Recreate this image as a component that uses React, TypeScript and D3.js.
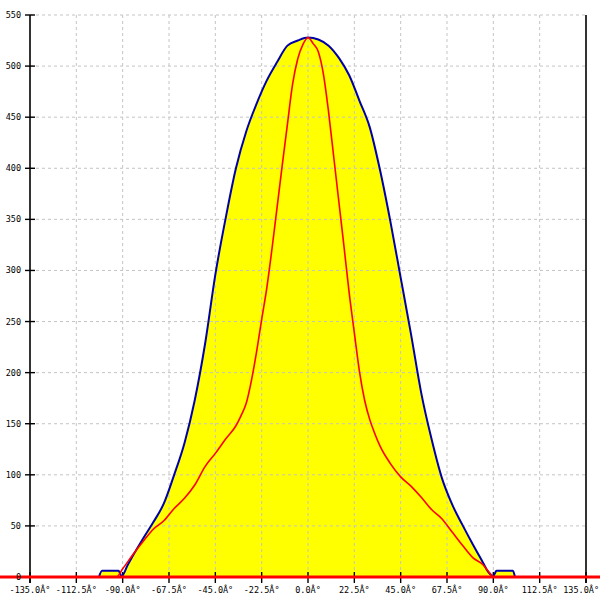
import React from 'react';
import * as d3 from 'd3';

// Blue curve (outer, filled yellow)
const blueAngles = [-101.5, -100, -92, -90.5, -87.5, -85, -80, -75, -70, -65, -60, -55, -50, -45, -40, -35, -30, -25, -20, -15, -10, -5, 0, 5, 10, 15, 20, 25, 30, 35, 40, 45, 50, 55, 60, 65, 70, 75, 80, 85, 87.5, 90, 91.5, 99.5, 100.5];
const blueValues = [0, 6, 6, 1, 12, 21, 38, 54, 72, 100, 131, 173, 228, 296, 351, 400, 436, 463, 486, 504, 520, 525, 528, 526, 520, 508, 491, 466, 440, 398, 348, 293, 238, 180, 135, 97, 71, 51, 32, 14, 5, 1, 6, 6, 0];

// Red curve (narrow)
const redAngles = [-180, -93, -90, -85, -80, -75, -70, -65, -60, -55, -50, -45, -40, -35, -32.5, -30, -27.5, -25, -22.5, -20, -17.5, -15, -12.5, -10, -7.5, -5, -2.5, 0, 2.5, 5, 7.5, 10, 12.5, 15, 17.5, 20, 22.5, 25, 27.5, 30, 32.5, 35, 40, 45, 50, 55, 60, 65, 70, 75, 80, 85, 89, 90, 180];
const redValues = [0, 0, 8, 22, 35, 47, 55, 67, 77, 90, 108, 121, 135, 148, 158, 170, 192, 220, 252, 283, 321, 362, 403, 443, 482, 507, 521, 528, 522, 514, 492, 455, 411, 367, 323, 278, 239, 201, 173, 154, 140, 128, 111, 98, 89, 78, 66, 57, 44, 31, 19, 12, 2, 0, 0];

const xTickValues = [-135, -112.5, -90, -67.5, -45, -22.5, 0, 22.5, 45, 67.5, 90, 112.5, 135];
const xTickLabels = ['-135.0Â°', '-112.5Â°', '-90.0Â°', '-67.5Â°', '-45.0Â°', '-22.5Â°', '0.0Â°', '22.5Â°', '45.0Â°', '67.5Â°', '90.0Â°', '112.5Â°', '135.0Â°'];
const yTickValues = [0, 50, 100, 150, 200, 250, 300, 350, 400, 450, 500, 550];

export default function App() {
  const x = d3.scaleLinear().domain([-135, 135]).range([30, 586]);
  const y = d3.scaleLinear().domain([0, 550]).range([577, 15]);

  const blue: [number, number][] = blueAngles.map((a, i) => [a, blueValues[i]]);
  const red: [number, number][] = redAngles.map((a, i) => [a, redValues[i]]);

  const area = d3.area<[number, number]>().curve(d3.curveMonotoneX).x(d => x(d[0])).y0(y(0)).y1(d => y(d[1]));
  const line = d3.line<[number, number]>().curve(d3.curveMonotoneX).x(d => x(d[0])).y(d => y(d[1]));

  const font = "'DejaVu Sans Mono', monospace";
  const left = x(-135);
  const right = x(135);
  const top = y(550);
  const bottom = y(0);

  return (
    <svg width={600} height={600} style={{ position: 'absolute', left: 0, top: 0, background: '#fff' }}>
      <rect x={0} y={0} width={600} height={600} fill="#fff" />
      <path d={area(blue) || ''} fill="#ffff00" stroke="none" />
      {/* grid */}
      {yTickValues.filter(v => v !== 0).map(v => (
        <line key={'gy' + v} x1={left} x2={right} y1={y(v)} y2={y(v)} stroke="#c4c4c4" strokeWidth={1} strokeDasharray="3,3" />
      ))}
      {xTickValues.filter(v => v !== -135 && v !== 135).map(v => (
        <line key={'gx' + v} x1={x(v)} x2={x(v)} y1={top} y2={bottom} stroke="#c4c4c4" strokeWidth={1} strokeDasharray="3,3" />
      ))}
      {/* axes */}
      <line x1={left} x2={left} y1={top} y2={bottom + 6} stroke="#000" strokeWidth={1.6} />
      <line x1={right} x2={right} y1={top} y2={bottom + 6} stroke="#000" strokeWidth={1.6} />
      {yTickValues.map(v => (
        <line key={'ty' + v} x1={left - 5} x2={left + 5} y1={y(v)} y2={y(v)} stroke="#000" strokeWidth={1.4} />
      ))}
      {xTickValues.map(v => (
        <line key={'tx' + v} x1={x(v)} x2={x(v)} y1={bottom - 5} y2={bottom + 6} stroke="#000" strokeWidth={1.4} />
      ))}
      <line x1={0} x2={600} y1={bottom} y2={bottom} stroke="#000" strokeWidth={1} />
      {/* series */}
      <path d={line(blue) || ''} fill="none" stroke="#0000a8" strokeWidth={2} />
      <path d={line(red) || ''} fill="none" stroke="#ff0000" strokeWidth={1.6} />
      <line x1={0} x2={600} y1={bottom} y2={bottom} stroke="#ff0000" strokeWidth={3} />
      {/* labels */}
      {yTickValues.map(v => (
        <text key={'ly' + v} x={left - 9} y={y(v)} dy="0.35em" textAnchor="end" fontFamily={font} fontSize={8.5} fill="#000">{v}</text>
      ))}
      {xTickValues.map((v, i) => {
        const last = i === xTickValues.length - 1;
        return (
          <text key={'lx' + v} x={last ? 599 : x(v)} y={bottom + 16} textAnchor={last ? 'end' : 'middle'} fontFamily={font} fontSize={8.5} fill="#000">{xTickLabels[i]}</text>
        );
      })}
    </svg>
  );
}
